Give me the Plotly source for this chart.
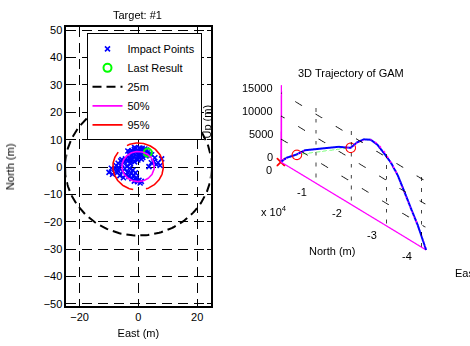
import numpy as np
import plotly.graph_objects as go

FONT = "Liberation Sans, Arial, sans-serif"

# ---------------- impact-point data (metres, relative to target) ----------------
impact_east = [
    -3.2, -2.8, -2.5, -2.2, -1.9, -1.6, -1.4, -1.1, -0.8, -0.6, -0.3, 0.0, 0.2, 0.4,
    0.7, 0.9, 1.2, 1.5, 1.7, 2.0, 2.3, 2.6, -2.9, -0.2, 1.0, -3.6, 0.5, 1.3, -1.3,
    2.2, -2.0, 0.1, -0.9, 3.0, 2.8,
    -8.1, -7.6, -7.2, -6.9, -6.6, -6.3, -6.0, -5.7, -5.4, -5.1, -4.8, -4.6, -4.3,
    -4.0, -3.7, -3.5, -3.2, -3.0, -2.7, -2.5, -2.2, -1.9, -1.6, -1.3, -1.0, -0.7,
    -5.6, -4.4, -7.0, -2.9,
    -0.8, -0.3, 0.2, 0.6, -1.4, 1.0,
    3.6, 4.4, 5.2, 6.1, 6.7, 7.4, 7.9, 5.6, 4.5, 3.9,
    -10.0, -9.2, -8.8,
]
impact_north = [
    4.8, 5.6, 4.2, 6.0, 5.1, 3.7, 6.4, 4.6, 5.7, 3.2, 6.2, 4.9, 5.8, 3.9,
    6.5, 4.4, 5.5, 3.5, 6.1, 4.8, 5.9, 4.1, 3.3, 2.6, 2.9, 5.9, 7.0, 6.9, 7.1,
    6.6, 2.8, 3.6, 6.9, 5.2, 6.2,
    -0.8, 0.6, -2.0, 1.4, -0.2, -3.1, 2.3, 0.9, -1.6, -3.9, 1.8, -0.6, -2.7,
    0.3, -1.9, 2.4, -3.4, -0.4, 1.2, -2.3, -4.2, -1.1, -3.0, 1.9, -2.1, -3.8,
    2.8, 3.0, -1.2, 2.6,
    -4.6, -5.3, -4.8, -5.8, -5.1, -5.2,
    0.2, 1.6, 2.0, 1.0, 1.6, 0.6, 3.0, 3.4, 4.5, 4.9,
    -1.9, -0.4, -2.6,
]
last_east = [3.2]
last_north = [5.3]

ring_center = (-0.1, 0.2)
radius_25m = 25.0
radius_50 = 5.5
radius_95 = 8.6

x_ticks = [-20, 0, 20]
y_ticks = [-50, -40, -30, -20, -10, 0, 10, 20, 30, 40, 50]

# ---------------- GAM trajectory data (metres) ----------------
traj_east = [0, 1, 3, 5, 8, 11, 13, 14, 15, 16, 17, 18, 19, 20, 21, 21, 22, 22]
traj_north = [0, -1600, -4400, -6800, -11600, -16300, -19700, -21600, -23500,
              -25400, -27300, -29200, -31100, -33000, -34900, -36800, -38700, -41100]
traj_up = [0, 1650, 3650, 5700, 8300, 10850, 12200, 14300, 15800,
           16600, 16400, 15400, 14300, 12500, 9800, 7000, 4300, 0]

# planned (reference) path
ref_up = [0, 1600, 3600, 5650, 8250, 10800, 12250, 14200, 15700,
          16600, 16650, 15800, 14400, 12500, 9800, 7000, 4300, 0]

# guidance events
event_east = [3, 13]
event_north = [-4430, -19660]
event_up = [3630, 12220]

north_range = [-41100, 0]
up_range = [0, 16900]
east_range = [0, 22]
up_ticks = [0, 5000, 10000, 15000]
north_ticks = [0, -10000, -20000, -30000, -40000]
north_tick_text = ["0", "-1", "-2", "-3", "-4"]

fig = go.Figure()

# ---------------- left: impact scatter ----------------
def ring(cx, cy, r, start_deg=0.0):
    th = np.radians(start_deg) + np.linspace(0, 2 * np.pi, 241)
    return cx + r * np.cos(th), cy + r * np.sin(th)


fig.add_trace(go.Scatter(
    x=impact_east, y=impact_north, mode="markers", name="Impact Points",
    marker=dict(symbol="x-thin", size=5, color="#0000ff",
                line=dict(color="#0000ff", width=1.6)),
    xaxis="x", yaxis="y"))
fig.add_trace(go.Scatter(
    x=last_east, y=last_north, mode="markers", name="Last Result",
    marker=dict(symbol="circle-open", size=8, color="#00ff00",
                line=dict(color="#00ff00", width=2)),
    xaxis="x", yaxis="y"))
rx, ry = ring(0.0, 0.0, radius_25m)
fig.add_trace(go.Scatter(
    x=rx, y=ry, mode="lines", name="25m",
    line=dict(color="black", width=2, dash="9px,5px"),
    xaxis="x", yaxis="y"))
rx, ry = ring(*ring_center, radius_50)
fig.add_trace(go.Scatter(x=rx, y=ry, mode="lines", name="50%",
                         line=dict(color="#ff00ff", width=1.6),
                         xaxis="x", yaxis="y"))
rx, ry = ring(*ring_center, radius_95, start_deg=142)
fig.add_trace(go.Scatter(x=rx, y=ry, mode="lines", name="95%",
                         line=dict(color="#ff0000", width=1.6,
                                   dash="49px,13px,80px,13px"),
                         xaxis="x", yaxis="y"))

# ---------------- right: 3D trajectory ----------------
e0 = east_range[0]
grid_x, grid_y, grid_z = [], [], []
for u in up_ticks[1:]:
    grid_x += [e0, e0, None]
    grid_y += [north_range[1], north_range[0], None]
    grid_z += [u, u, None]
for n in north_ticks[1:]:
    grid_x += [e0, e0, None]
    grid_y += [n, n, None]
    grid_z += [up_range[0], up_range[1], None]
fig.add_trace(go.Scatter3d(x=grid_x, y=grid_y, z=grid_z, mode="lines",
                           line=dict(color="black", width=1.5, dash="dash"),
                           showlegend=False, hoverinfo="skip"))
# projections of the flight path on the floor and on the North = 0 wall
fig.add_trace(go.Scatter3d(
    x=traj_east, y=traj_north, z=[0] * len(traj_up), mode="lines",
    line=dict(color="#ff00ff", width=2.5), showlegend=False))
fig.add_trace(go.Scatter3d(
    x=traj_east, y=[0] * len(traj_north), z=traj_up, mode="lines",
    line=dict(color="#ff00ff", width=2.5), showlegend=False))
# planned path
fig.add_trace(go.Scatter3d(
    x=traj_east, y=traj_north, z=ref_up, mode="lines",
    line=dict(color="#ff00ff", width=3, dash="dash"), showlegend=False))
# flown path
fig.add_trace(go.Scatter3d(
    x=traj_east, y=traj_north, z=traj_up, mode="lines",
    line=dict(color="#0000ff", width=4), showlegend=False))
fig.add_trace(go.Scatter3d(
    x=event_east, y=event_north, z=event_up, mode="lines",
    line=dict(color="#00ff00", width=2, dash="dash"), showlegend=False))
fig.add_trace(go.Scatter3d(
    x=event_east, y=event_north, z=event_up, mode="markers",
    marker=dict(symbol="circle-open", size=6, color="#ff0000"), showlegend=False))
fig.add_trace(go.Scatter3d(
    x=traj_east[:1], y=traj_north[:1], z=traj_up[:1], mode="markers",
    marker=dict(symbol="x", size=2, color="#ff0000"), showlegend=False))

scene_ann = []
for u in up_ticks:
    scene_ann.append(dict(x=e0, y=0, z=u, text=str(u), showarrow=False,
                          xanchor="right", yanchor="middle", xshift=-6, yshift=4,
                          font=dict(size=11, color="black", family=FONT)))
for n, s in zip(north_ticks, north_tick_text):
    scene_ann.append(dict(x=e0, y=n, z=0, text=s, showarrow=False,
                          xanchor="right", yanchor="middle", xshift=-7, yshift=-9,
                          font=dict(size=11, color="black", family=FONT)))

eye = dict(x=-0.554, y=-0.648, z=0.522)
zoom = 2.06

axis3d = dict(visible=False, showspikes=False)
fig.update_layout(
    scene=dict(
        domain=dict(x=[242 / 470, 464.8 / 470], y=[0.2, 0.8358]),
        xaxis=dict(axis3d, range=east_range),
        yaxis=dict(axis3d, range=north_range),
        zaxis=dict(axis3d, range=up_range),
        aspectmode="manual",
        aspectratio=dict(x=0.004 * zoom, y=1.0 * zoom, z=0.411 * zoom),
        camera=dict(projection=dict(type="orthographic"), eye=eye,
                    up=dict(x=0, y=0, z=1), center=dict(x=0, y=0, z=0)),
        bgcolor="rgba(0,0,0,0)",
        annotations=scene_ann,
    )
)

# ---------------- layout ----------------
grid_dash = "10px,6px"


def label(text, x, y, **kw):
    base = dict(text=text, x=x / 470, y=1 - y / 346, xref="paper", yref="paper",
                showarrow=False, xanchor="center", yanchor="middle",
                font=dict(size=11, family=FONT, color="black"))
    base.update(kw)
    return base


fig.update_layout(
    width=470, height=346,
    margin=dict(l=0, r=0, t=0, b=0),
    paper_bgcolor="white", plot_bgcolor="white",
    font=dict(family=FONT, size=11, color="black"),
    showlegend=True,
    legend=dict(x=86.5 / 470, y=1 - 31 / 346, xanchor="left", yanchor="top",
                bgcolor="white", bordercolor="black", borderwidth=1,
                font=dict(size=11, family=FONT, color="black")),
    xaxis=dict(domain=[66.3 / 470, 210.5 / 470], range=[-24.55, 24.55],
               tickvals=x_ticks, ticks="inside", ticklen=4, tickcolor="black",
               showline=True, linecolor="black", linewidth=1.5, mirror="ticks",
               showgrid=True, gridcolor="black", gridwidth=1, griddash=grid_dash,
               zeroline=False, anchor="y",
               title=dict(text="East (m)", standoff=7,
                          font=dict(size=11, family=FONT))),
    yaxis=dict(domain=[1 - 309.3 / 346, 1 - 25 / 346], range=[-50.75, 51.0],
               tickvals=y_ticks, ticks="inside", ticklen=4, tickcolor="black",
               showline=True, linecolor="black", linewidth=1.5, mirror="ticks",
               showgrid=True, gridcolor="black", gridwidth=1, griddash=grid_dash,
               zeroline=False, anchor="x",
               title=dict(text="North (m)", standoff=27,
                          font=dict(size=11, family=FONT))),
    annotations=[
        label("Target: #1", 137.5, 12.7),
        label("3D Trajectory of GAM", 351, 71),
        label("Up (m)", 207, 121, textangle=-90),
        label("North (m)", 332, 253),
        label("x 10<sup>4</sup>", 259, 212, xanchor="left"),
        label("East (m)", 452.7, 276, xanchor="left"),
    ],
)

fig.write_html("out.html")
